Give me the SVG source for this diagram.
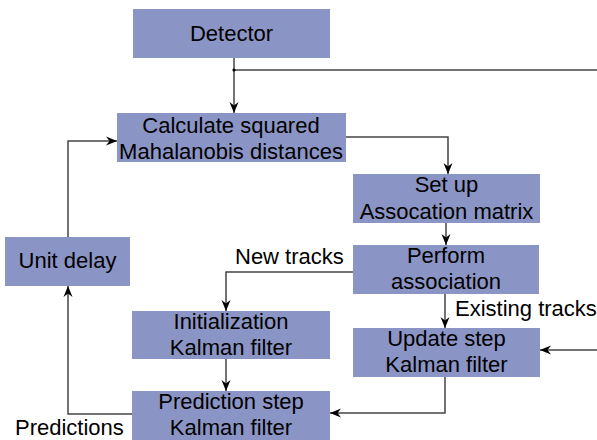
<svg xmlns="http://www.w3.org/2000/svg" width="597" height="440" viewBox="0 0 597 440">
<defs>
<marker id="ah" markerUnits="userSpaceOnUse" markerWidth="12" markerHeight="10" refX="11" refY="5" orient="auto">
<path d="M0,0.5 L11,5 L0,9.5 L3.5,5 Z" fill="#000"/>
</marker>
<style>
.box{fill:#8b95c5;}
.t{font-family:"Liberation Sans",Arial,sans-serif;font-size:22px;fill:#000;text-anchor:middle;}
.l{font-family:"Liberation Sans",Arial,sans-serif;font-size:22px;fill:#000;}
.c{fill:none;stroke:#444;stroke-width:1.5;}
.a{marker-end:url(#ah);}
</style>
</defs>
<rect width="597" height="440" fill="#fff"/>
<g id="detector"><rect class="box" x="133" y="9" width="197" height="49"/><text class="t" x="231.5" y="41">Detector</text></g>
<g id="calc"><rect class="box" x="117" y="113" width="229" height="49"/><text class="t" x="231" y="133">Calculate squared</text><text class="t" x="231" y="159">Mahalanobis distances</text></g>
<g id="setup"><rect class="box" x="353" y="174" width="187" height="49"/><text class="t" x="446.5" y="192">Set up</text><text class="t" x="446.5" y="219">Assocation matrix</text></g>
<g id="perform"><rect class="box" x="353" y="245" width="186" height="49"/><text class="t" x="446" y="263">Perform</text><text class="t" x="446" y="289">association</text></g>
<g id="update"><rect class="box" x="353" y="328" width="187" height="49"/><text class="t" x="446.5" y="346">Update step</text><text class="t" x="446.5" y="372">Kalman filter</text></g>
<g id="unitdelay"><rect class="box" x="5" y="237" width="125" height="49"/><text class="t" x="67.5" y="268">Unit delay</text></g>
<g id="init"><rect class="box" x="132" y="311" width="198" height="48"/><text class="t" x="231" y="329">Initialization</text><text class="t" x="231" y="355">Kalman filter</text></g>
<g id="predict"><rect class="box" x="132" y="391" width="198" height="49"/><text class="t" x="231" y="409">Prediction step</text><text class="t" x="231" y="435">Kalman filter</text></g>
<g id="connectors">
<path class="c a" d="M234,58 V113"/>
<path class="c" d="M234,70 H597"/>
<circle cx="234" cy="70" r="1.6" fill="#000"/>
<path class="c a" d="M346,137 H448 V174"/>
<path class="c a" d="M446,223 V245"/>
<path class="c a" d="M445,294 V328"/>
<path class="c a" d="M353,272 H226 V311"/>
<path class="c a" d="M226,359 V391"/>
<path class="c a" d="M445,377 V413 H330"/>
<path class="c a" d="M597,350 H540"/>
<path class="c a" d="M132,414 H68 V286"/>
<path class="c a" d="M68,237 V141 H117"/>
</g>
<text class="l" x="235" y="264">New tracks</text>
<text class="l" x="455" y="316">Existing tracks</text>
<text class="l" x="15" y="435">Predictions</text>
</svg>
